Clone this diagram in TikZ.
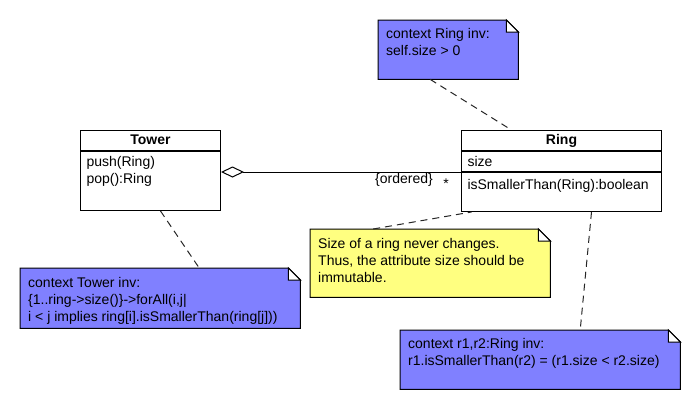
\documentclass[tikz,border=0pt]{standalone}
\usepackage{fontspec}
\setmainfont{Liberation Sans}
\usepackage{xcolor}
\usetikzlibrary{positioning,arrows.meta,backgrounds}

\definecolor{oclblue}{RGB}{128,128,255}
\definecolor{noteyellow}{RGB}{255,255,128}
\newcommand{\umlfont}{\fontsize{14}{17}\selectfont}
% top aligned text block: width, height, first baseline, lines
\newcommand{\blocktxt}[4]{\parbox[t][#2][t]{#1}{\rule{0pt}{#3}#4}}

\begin{document}
\begin{tikzpicture}[
  x=1pt, y=-1pt,
  every node/.style={font=\umlfont},
  classtitle/.style={draw, line width=1pt, minimum height=20pt, inner sep=0pt, text height=10pt, text depth=3pt, font=\umlfont\bfseries},
  classbody/.style={draw, line width=1pt, inner xsep=6pt, inner ysep=0pt},
  note/.style={anchor=north west, inner xsep=8pt, inner ysep=0pt},
  agg/.style={{Diamond[open, length=23pt, width=11pt]}-, line width=1pt},
  anchorline/.style={dash pattern=on 7pt off 5pt, line width=1pt, black!85},
  lbl/.style={anchor=north, inner sep=0pt},
]
\useasboundingbox (0,0) rectangle (700,410);

% Tower
\node[classtitle, minimum width=140pt, anchor=north west] (tower) at (80,130) {Tower};
\node[classbody, below=0pt of tower] (towerops) {\blocktxt{128pt}{59pt}{15pt}{push(Ring)\\pop():Ring}};

% Ring
\node[classtitle, minimum width=200pt, right=240pt of tower] (ring) {Ring};
\node[classbody, below=0pt of ring] (ringattr) {\blocktxt{188pt}{20pt}{15pt}{size}};
\node[classbody, below=0pt of ringattr] (ringops) {\blocktxt{188pt}{39pt}{17pt}{isSmallerThan(Ring):boolean}};

% aggregation
\draw[agg] (towerops.east |- ringops.north west) -- (ringops.north west)
  node[lbl, pos=0.7625, yshift=-1pt] (ordlbl) {\{ordered\}}
  node[lbl, pos=0.9375, yshift=-6pt] (multlbl) {*};

% OCL notes
\node[note] (ringinv) at (378,20) {\blocktxt{124pt}{59pt}{18pt}{context Ring inv:\\self.size > 0}};
\node[note] (sizenote) at (310,229) {\blocktxt{224pt}{68pt}{19pt}{Size of a ring never changes.\\Thus, the attribute size should be\\immutable.}};
\node[note] (towerinv) at (20,268) {\blocktxt{264pt}{60pt}{19pt}{context Tower inv:\\\{1..ring->size()\}->forAll(i,j|\\i < j implies ring[i].isSmallerThan(ring[j]))}};
\node[note] (ordinv) at (400,330) {\blocktxt{264pt}{59pt}{18pt}{context r1,r2:Ring inv:\\r1.isSmallerThan(r2) = (r1.size < r2.size)}};

\begin{scope}[on background layer]
  \fill[white] (0,0) rectangle (700,410);
  \foreach \n/\c in {ringinv/oclblue, sizenote/noteyellow, towerinv/oclblue, ordinv/oclblue} {
    \filldraw[fill=\c, line width=1pt] (\n.south west) -- (\n.north west) -- ([xshift=-12pt]\n.north east)
      -- ([yshift=-12pt]\n.north east) -- (\n.south east) -- cycle;
    \filldraw[fill=white, line width=1pt] ([xshift=-12pt]\n.north east) |- ([yshift=-12pt]\n.north east) -- cycle;
  }
\end{scope}

% note anchors
\draw[anchorline] ([xshift=-18pt]ringinv.south) -- ([xshift=-50pt]ring.north);
\draw[anchorline] ([xshift=10pt]towerops.south) -- ([xshift=39pt]towerinv.north);
\draw[anchorline] ([xshift=-57pt]sizenote.north) -- ([xshift=-90pt]ringops.south);
\draw[anchorline] ([xshift=30pt]ringops.south) -- ([xshift=40pt]ordinv.north);
\end{tikzpicture}
\end{document}
